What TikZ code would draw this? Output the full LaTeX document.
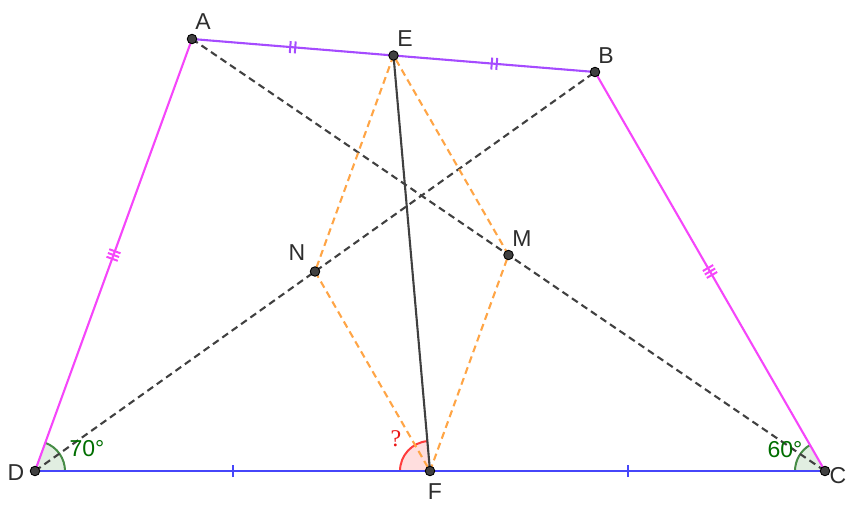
\documentclass[tikz,border=0pt]{standalone}
\usepackage{fontspec}
\setmainfont{Liberation Sans}
\newfontfamily\qfont{Liberation Serif}
\usetikzlibrary{calc,decorations.markings}
\definecolor{mag}{RGB}{245,70,250}
\definecolor{pur}{RGB}{165,75,255}
\definecolor{blu}{RGB}{70,70,250}
\definecolor{ora}{RGB}{255,165,70}
\definecolor{dgr}{RGB}{64,64,64}
\definecolor{lbl}{RGB}{45,45,45}
\definecolor{angg}{RGB}{70,140,70}
\definecolor{angfill}{RGB}{225,238,225}
\definecolor{angtxt}{RGB}{0,110,0}
\definecolor{redl}{RGB}{255,60,60}
\definecolor{redq}{RGB}{235,20,20}
\definecolor{redfill}{RGB}{255,222,222}
\begin{document}
\begin{tikzpicture}[x=1pt,y=1pt,
  side/.style={line width=2.1pt},
  dsh/.style={line width=2.1pt,dash pattern=on 7pt off 4.5pt},
  tickone/.style={postaction={decorate,decoration={markings,mark=at position 0.5 with {\draw[line width=2pt] (0,-6pt)--(0,6pt);}}}},
  ticktwo/.style={postaction={decorate,decoration={markings,mark=at position 0.5 with {\draw[line width=2pt] (-2.5pt,-6pt)--(-2.5pt,6pt) (2.5pt,-6pt)--(2.5pt,6pt);}}}},
  tickthree/.style={postaction={decorate,decoration={markings,mark=at position 0.5 with {\draw[line width=2pt] (-4pt,-6pt)--(-4pt,6pt) (0pt,-6pt)--(0pt,6pt) (4pt,-6pt)--(4pt,6pt);}}}},
  pt/.style={circle,fill=dgr,draw=black,line width=0.9pt,inner sep=0pt,minimum size=9.5pt},
  lab/.style={text=lbl,font=\fontsize{23}{26}\selectfont,inner sep=0pt},
  angl/.style={text=angtxt,font=\fontsize{23}{26}\selectfont,inner sep=0pt}
]
\useasboundingbox (0,0) rectangle (861,507);
\coordinate (A) at (192,468);
\coordinate (B) at (595,435);
\coordinate (C) at (825,36);
\coordinate (D) at (35,36);
\coordinate (E) at ($(A)!0.5!(B)$);
\coordinate (F) at ($(D)!0.5!(C)$);
\coordinate (N) at ($(D)!0.5!(B)$);
\coordinate (M) at ($(A)!0.5!(C)$);
% angle sectors
\fill[angfill] (D) -- ++(0:30) arc (0:70.03:30) -- cycle;
\draw[angg,line width=2pt] ($(D)+(0:30)$) arc (0:70.03:30);
\fill[angfill] (C) -- ++(119.96:30) arc (119.96:180:30) -- cycle;
\draw[angg,line width=2pt] ($(C)+(119.96:30)$) arc (119.96:180:30);
\fill[redfill] (F) -- ++(95.02:30) arc (95.02:180:30) -- cycle;
\draw[redl,line width=2pt] ($(F)+(95.02:30)$) arc (95.02:180:30);
% dashed diagonals
\draw[dsh,dgr] (A) -- (C);
\draw[dsh,dgr] (D) -- (B);
% orange rhombus
\draw[dsh,ora] (E) -- (N) -- (F) -- (M) -- cycle;
% sides
\draw[side,mag,tickthree] (D) -- (A);
\draw[side,mag,tickthree] (B) -- (C);
\draw[side,pur,ticktwo] (A) -- (E);
\draw[side,pur,ticktwo] (E) -- (B);
\draw[side,blu,tickone] (D) -- (F);
\draw[side,blu,tickone] (F) -- (C);
% EF
\draw[line width=2.1pt,dgr] (E) -- (F);
% points
\foreach \p in {A,B,C,D,E,F,N,M} \node[pt] (p\p) at (\p) {};
% labels
\node[lab] (lA) at (203,485) {A};
\node[lab] (lE) at (405,468) {E};
\node[lab] (lB) at (606,451) {B};
\node[lab] (lN) at (297,254) {N};
\node[lab] (lM) at (522,268) {M};
\node[lab] (lD) at (16,34) {D};
\node[lab] (lF) at (435,15) {F};
\node[lab] (lC) at (838,31) {C};
\node[angl] (a70) at (87,58) {70°};
\node[angl] (a60) at (785,57) {60°};
\node[text=redq,font=\qfont\fontsize{24}{26}\selectfont,inner sep=0pt] (q) at (396,68) {?};
\end{tikzpicture}
\end{document}
